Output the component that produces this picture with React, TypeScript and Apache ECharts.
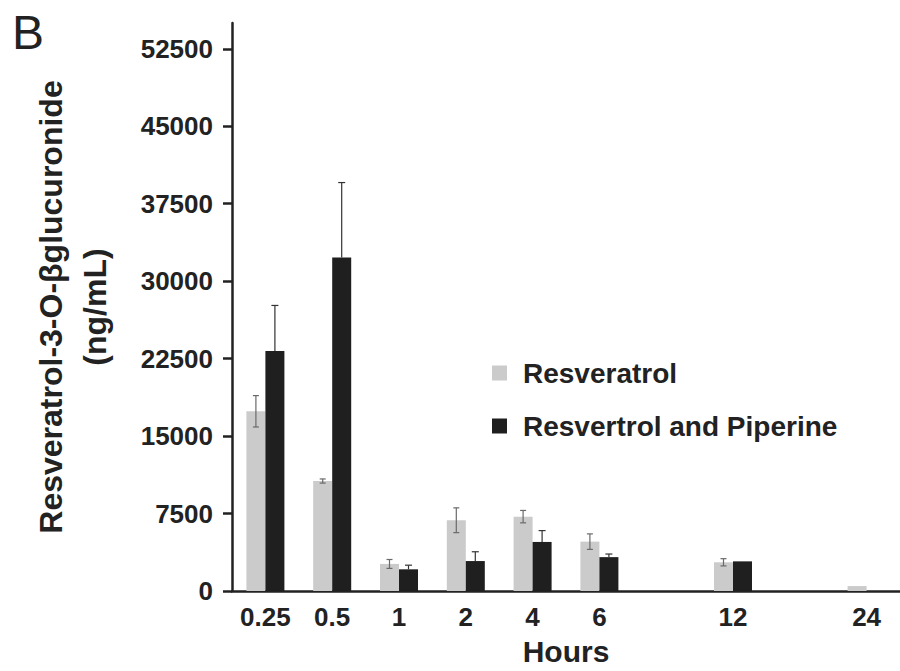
import React, { useEffect, useRef } from "react";
import * as echarts from "echarts";

const categories = ["0.25", "0.5", "1", "2", "4", "6", "", "12", "", "24"];
const resveratrol = [17400, 10650, 2620, 6850, 7200, 4780, null, 2780, null, 480];
const resveratrolErr = [1520, 200, 430, 1200, 600, 750, null, 350, null, 0];
const combo = [23250, 32300, 2100, 2900, 4750, 3280, null, 2870, null, null];
const comboErr = [4400, 7250, 400, 900, 1100, 300, null, 0, null, null];
const yTicks = [0, 7500, 15000, 22500, 30000, 37500, 45000, 52500];
const seriesNames = ["Resveratrol", "Resvertrol and Piperine"];

const FONT = "'Liberation Sans', Arial, Helvetica, sans-serif";
const BAR_W = 19;
const GRAY = "#cbcbcb";
const BLACK = "#1f1f1f";

function errData(vals: (number | null)[], errs: (number | null)[]) {
  const out: number[][] = [];
  vals.forEach((v, i) => {
    const e = errs[i];
    if (v != null && e != null && e > 0) out.push([i, v, e]);
  });
  return out;
}

function makeErrRender(sign: number, both: boolean, color: string, cap: number) {
  return (params: any, api: any) => {
    const idx = api.value(0);
    const v = api.value(1);
    const e = api.value(2);
    const c = api.coord([idx, v]);
    const x = c[0] + (sign * BAR_W) / 2;
    const top = api.coord([idx, v + e])[1];
    const bot = both ? api.coord([idx, v - e])[1] : c[1];
    const style = { stroke: color, lineWidth: 1.2 };
    const children: any[] = [
      { type: "line", shape: { x1: x, y1: top, x2: x, y2: bot }, style },
      { type: "line", shape: { x1: x - cap, y1: top, x2: x + cap, y2: top }, style },
    ];
    if (both) {
      children.push({ type: "line", shape: { x1: x - cap, y1: bot, x2: x + cap, y2: bot }, style });
    }
    return { type: "group", children };
  };
}

export default function App() {
  const ref = useRef<HTMLDivElement>(null);
  useEffect(() => {
    if (!ref.current) return;
    const chart = echarts.init(ref.current, null, { renderer: "svg" });
    chart.setOption({
      animation: false,
      backgroundColor: "#ffffff",
      textStyle: { fontFamily: FONT },
      grid: { left: 232, right: -10, top: 23, bottom: 72, containLabel: false },
      legend: {
        data: seriesNames,
        orient: "vertical",
        left: 492,
        top: 359,
        padding: 0,
        itemGap: 25,
        itemWidth: 15,
        itemHeight: 15,
        icon: "rect",
        textStyle: {
          fontFamily: FONT,
          fontSize: 28,
          fontWeight: "bold",
          color: "#222",
          padding: [0, 0, 0, 11],
        },
      },
      graphic: [
        {
          type: "text",
          left: 12,
          top: 8,
          style: { text: "B", font: `normal 48px ${FONT}`, fill: "#222" },
        },
      ],
      xAxis: {
        type: "category",
        data: categories,
        name: "Hours",
        nameLocation: "middle",
        nameGap: 45,
        nameTextStyle: { fontFamily: FONT, fontSize: 30, fontWeight: "bold", color: "#222", lineHeight: 30 },
        axisLine: { lineStyle: { color: "#222", width: 2.5 } },
        axisTick: { show: false },
        axisLabel: {
          interval: 0,
          margin: 13,
          fontFamily: FONT,
          fontSize: 26,
          fontWeight: "bold",
          color: "#222",
          lineHeight: 26,
        },
        splitLine: { show: false },
      },
      yAxis: {
        type: "value",
        min: 0,
        max: 55000,
        interval: 2500,
        name: "Resveratrol-3-O-βglucuronide\n(ng/mL)",
        nameLocation: "middle",
        nameRotate: 90,
        nameGap: 115,
        nameTextStyle: { fontFamily: FONT, fontSize: 32, fontWeight: "bold", color: "#222", lineHeight: 44 },
        axisLine: { show: true, lineStyle: { color: "#222", width: 2.5 } },
        axisTick: { show: true, length: 9, lineStyle: { color: "#222", width: 2.5 }, customValues: yTicks },
        axisLabel: {
          margin: 19,
          fontFamily: FONT,
          fontSize: 26,
          fontWeight: "bold",
          color: "#222",
          customValues: yTicks,
          formatter: (v: number) => String(v),
        },
        splitLine: { show: false },
      },
      series: [
        {
          name: seriesNames[0],
          type: "bar",
          data: resveratrol,
          barWidth: BAR_W,
          barGap: "0%",
          itemStyle: { color: GRAY },
        },
        {
          name: seriesNames[1],
          type: "bar",
          data: combo,
          barWidth: BAR_W,
          barGap: "0%",
          itemStyle: { color: BLACK },
        },
        {
          name: "err-res",
          type: "custom",
          data: errData(resveratrol, resveratrolErr),
          encode: { x: 0, y: 1 },
          renderItem: makeErrRender(-1, true, "#6a6a6a", 3),
          z: 5,
        },
        {
          name: "err-combo",
          type: "custom",
          data: errData(combo, comboErr),
          encode: { x: 0, y: 1 },
          renderItem: makeErrRender(1, false, "#333333", 3.5),
          z: 5,
        },
      ],
    });
    return () => chart.dispose();
  }, []);
  return <div ref={ref} style={{ width: 900, height: 671, position: "absolute", left: 0, top: 0 }} />;
}
